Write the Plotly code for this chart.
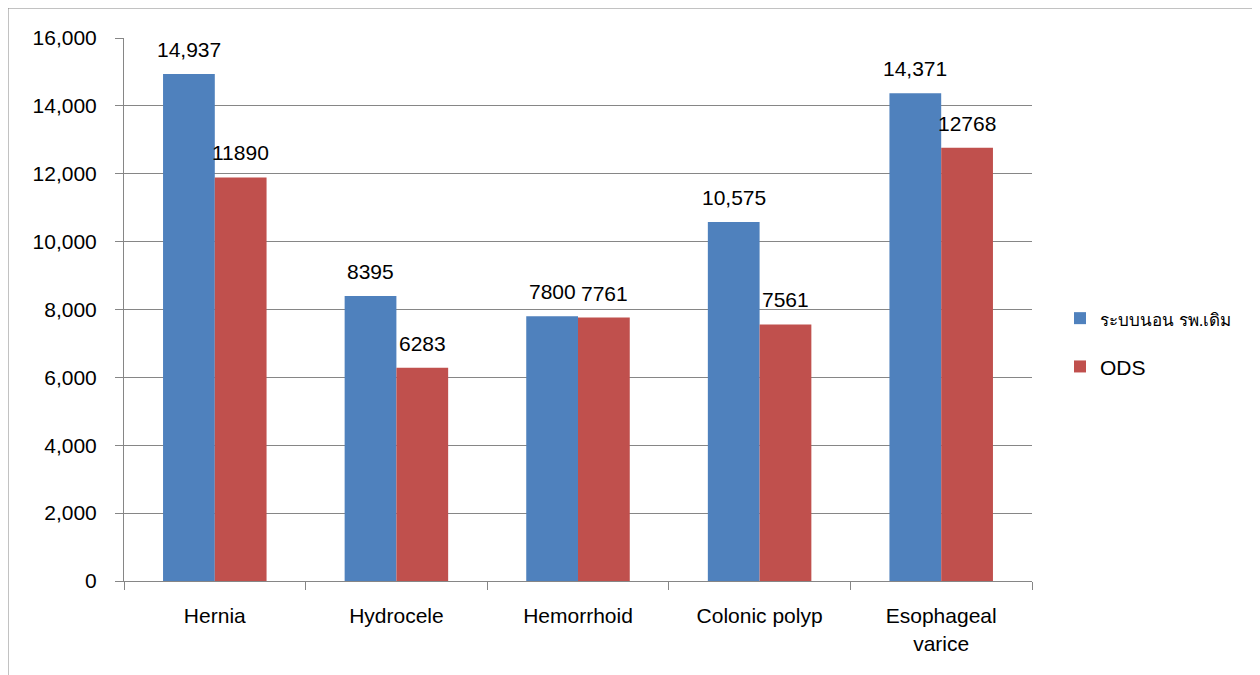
import plotly.graph_objects as go

categories = ["Hernia", "Hydrocele", "Hemorrhoid", "Colonic polyp", "Esophageal<br>varice"]
old_system = [14937, 8395, 7800, 10575, 14371]
ods = [11890, 6283, 7761, 7561, 12768]
old_labels = ["14,937", "8395", "7800", "10,575", "14,371"]
ods_labels = ["11890", "6283", "7761", "7561", "12768"]
y_ticks = [0, 2000, 4000, 6000, 8000, 10000, 12000, 14000, 16000]
y_tick_text = ["0", "2,000", "4,000", "6,000", "8,000", "10,000", "12,000", "14,000", "16,000"]

FONT = "Liberation Sans, Arial, sans-serif"
FS = 21
OFF = 8  # page body margin
W, H = 1260 - OFF, 675 - OFF
L, R, T, B = 124 - OFF, 1032 - OFF, 38 - OFF, 581 - OFF
pw, ph = R - L, B - T

fig = go.Figure()
fig.add_trace(go.Bar(
    x=categories, y=old_system, name='<span style="font-size:17px">ระบบนอน รพ.เดิม</span>',
    marker=dict(color="#4F81BD", line=dict(width=0)), legendgroup="a",
))
fig.add_trace(go.Bar(
    x=categories, y=ods, name="ODS",
    marker=dict(color="#C0504D", line=dict(width=0)), legendgroup="b",
))

annotations = []
for cat, v, t in zip(categories, old_system, old_labels):
    annotations.append(dict(x=cat, y=v, text=t, showarrow=False, xshift=-26,
                            yanchor="bottom", yshift=11, font=dict(size=FS, family=FONT, color="black")))
for cat, v, t in zip(categories, ods, ods_labels):
    annotations.append(dict(x=cat, y=v, text=t, showarrow=False, xshift=26,
                            yanchor="bottom", yshift=11, font=dict(size=FS, family=FONT, color="black")))

fig.update_layout(
    width=W, height=H,
    margin=dict(l=L, r=W - R, t=T, b=H - B, pad=0, autoexpand=False),
    paper_bgcolor="white", plot_bgcolor="white",
    barmode="group", bargap=0.43, bargroupgap=0,
    font=dict(family=FONT, size=FS, color="black"),
    showlegend=True,
    legend=dict(x=(1060 - 124) / pw, y=1 - (298 - 38) / ph, xanchor="left", yanchor="top",
                font=dict(size=21, color="black", family=FONT),
                tracegroupgap=18, itemwidth=30, bgcolor="rgba(0,0,0,0)"),
    annotations=annotations,
)
fig.update_xaxes(
    showline=True, linecolor="#868686", linewidth=1,
    ticks="outside", tickson="boundaries", ticklen=8, tickcolor="#868686",
    tickfont=dict(size=FS, family=FONT, color="black"), showgrid=False,
    ticklabelstandoff=16,
)
fig.update_yaxes(
    range=[0, 16000], tickvals=y_ticks, ticktext=y_tick_text,
    showline=True, linecolor="#868686", linewidth=1,
    ticks="outside", ticklen=8, tickcolor="#868686",
    showgrid=True, gridcolor="#868686", gridwidth=1, zeroline=False,
    tickfont=dict(size=FS, family=FONT, color="black"), ticklabelstandoff=14,
)
# outer chart frame
fig.add_shape(type="rect", xref="paper", yref="paper",
              x0=(8 - 124) / pw, x1=(1256 - 124) / pw,
              y0=-(675 + 20 - 581) / ph, y1=1 + (38 - 8) / ph,
              line=dict(color="#868686", width=1), fillcolor="rgba(0,0,0,0)", layer="below")

fig.write_html("out.html")
